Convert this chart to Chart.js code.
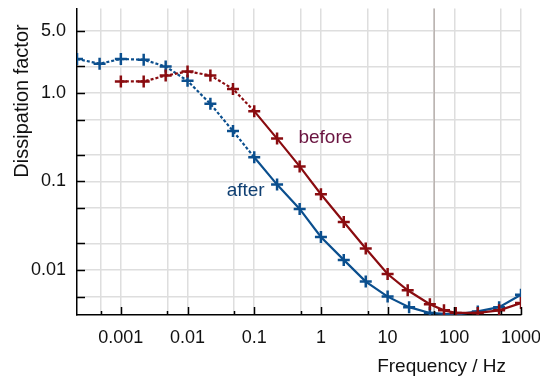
<!DOCTYPE html>
<html>
<head>
<meta charset="utf-8">
<script src="https://cdn.jsdelivr.net/npm/chart.js@4"></script>
<style>
  html, body { margin: 0; padding: 0; background: #fff; }
  #wrap { width: 540px; height: 376px; }
</style>
</head>
<body>
<div id="wrap"><canvas id="chart"></canvas></div>
<script>
// Dissipation factor vs frequency, before/after

const beforeFreq = [0.001, 0.0022, 0.0047, 0.01, 0.022, 0.048, 0.1, 0.22, 0.48, 1, 2.2, 4.7, 10, 20, 43, 70, 105, 225, 470, 1000];
const beforeVals = [1.35, 1.35, 1.57, 1.75, 1.58, 1.11, 0.623, 0.305, 0.148, 0.0718, 0.0348, 0.0175, 0.0090, 0.0059, 0.0041, 0.0035, 0.00327, 0.00327, 0.0035, 0.00423];

const afterFreq = [0.00022, 0.00048, 0.001, 0.0022, 0.0047, 0.01, 0.022, 0.048, 0.1, 0.22, 0.48, 1, 2.2, 4.7, 10, 21, 43, 105, 225, 470, 1000];
const afterVals = [2.42, 2.14, 2.42, 2.37, 1.99, 1.37, 0.753, 0.372, 0.1875, 0.0922, 0.049, 0.0236, 0.0130, 0.0074, 0.0050, 0.0038, 0.00327, 0.00313, 0.0034, 0.0038, 0.00525];

const xTicks = [0.0005, 0.001, 0.005, 0.01, 0.05, 0.1, 0.5, 1, 5, 10, 50, 100, 500, 1000];
const xLabels = { 0.001: '0.001', 0.01: '0.01', 0.1: '0.1', 1: '1', 10: '10', 100: '100', 1000: '1000' };
const yTicks = [0.005, 0.01, 0.02, 0.05, 0.1, 0.2, 0.5, 1, 2, 5];
const yLabels = { 0.01: '0.01', 0.1: '0.1', 1: '1.0', 5: '5.0' };

const mainsFreq = 50; // darker vertical marker

const RED = '#8a0c10';
const BLUE = '#0b4f8e';
const FONT = '"Liberation Sans", Arial, sans-serif';

function toPoints(xs, ys) {
    return xs.map((x, i) => ({ x: x, y: ys[i] }));
}

// low frequency part is drawn dotted
const dotted = ctx => ctx.p1.parsed.x <= 0.1 ? [3, 2] : undefined;

function isDecade(v) {
    const l = Math.log10(v);
    return Math.abs(l - Math.round(l)) < 1e-6;
}

const decorPlugin = {
    id: 'decor',
    beforeDatasetsDraw(chart) {
        const { ctx, chartArea: a, scales: { x } } = chart;
        const px = x.getPixelForValue(mainsFreq);
        ctx.save();
        ctx.strokeStyle = '#b3aaa6';
        ctx.lineWidth = 1.2;
        ctx.beginPath();
        ctx.moveTo(px, a.top);
        ctx.lineTo(px, a.bottom);
        ctx.stroke();
        ctx.restore();
    },
    afterDraw(chart) {
        const { ctx, chartArea: a, scales: { x, y } } = chart;
        ctx.save();
        // inward tick marks
        ctx.strokeStyle = '#000';
        ctx.lineWidth = 1.5;
        xTicks.forEach(v => {
            const px = Math.round(x.getPixelForValue(v)) + 0.5;
            const len = isDecade(v) ? 8 : 4;
            ctx.beginPath();
            ctx.moveTo(px, a.bottom);
            ctx.lineTo(px, a.bottom - len);
            ctx.stroke();
        });
        yTicks.forEach(v => {
            const py = Math.round(y.getPixelForValue(v)) + 0.5;
            ctx.beginPath();
            ctx.moveTo(a.left, py);
            ctx.lineTo(a.left + 8, py);
            ctx.stroke();
        });

        // axis titles
        ctx.fillStyle = '#111';
        ctx.font = '19px ' + FONT;
        ctx.textAlign = 'right';
        ctx.textBaseline = 'alphabetic';
        ctx.fillText('Frequency / Hz', 506, 372);

        ctx.save();
        ctx.font = '20px ' + FONT;
        ctx.translate(28, 101);
        ctx.rotate(-Math.PI / 2);
        ctx.textAlign = 'center';
        ctx.fillText('Dissipation factor', 0, 0);
        ctx.restore();

        // series labels
        ctx.font = '19px ' + FONT;
        ctx.textAlign = 'left';
        ctx.textBaseline = 'middle';
        ctx.fillStyle = '#6a1440';
        ctx.fillText('before', x.getPixelForValue(0.46), y.getPixelForValue(0.31));
        ctx.fillStyle = '#0f3f72';
        ctx.fillText('after', x.getPixelForValue(0.0386), y.getPixelForValue(0.079));
        ctx.restore();
    }
};

new Chart(document.getElementById('chart'), {
    type: 'line',
    data: {
        datasets: [
            {
                label: 'before',
                data: toPoints(beforeFreq, beforeVals),
                borderColor: RED,
                backgroundColor: RED,
                borderWidth: 2.2,
                pointStyle: 'cross',
                pointRadius: 6,
                pointBorderWidth: 2.5,
                tension: 0,
                segment: { borderDash: dotted }
            },
            {
                label: 'after',
                data: toPoints(afterFreq, afterVals),
                borderColor: BLUE,
                backgroundColor: BLUE,
                borderWidth: 2.2,
                pointStyle: 'cross',
                pointRadius: 6,
                pointBorderWidth: 2.5,
                tension: 0,
                segment: { borderDash: dotted }
            }
        ]
    },
    options: {
        responsive: true,
        maintainAspectRatio: false,
        animation: false,
        layout: { padding: { left: 0, right: 19, top: 7, bottom: 0 } },
        plugins: {
            legend: { display: false },
            tooltip: { enabled: false }
        },
        scales: {
            x: {
                type: 'logarithmic',
                min: 0.00022,
                max: 1000,
                afterBuildTicks: s => { s.ticks = xTicks.map(v => ({ value: v })); },
                afterFit: s => { s.height = 61; s.paddingLeft = 0; s.paddingRight = 0; },
                grid: { color: '#dedede', lineWidth: 1.5, drawTicks: false },
                border: { color: '#000', width: 1.5 },
                ticks: {
                    autoSkip: false,
                    maxRotation: 0,
                    padding: 12,
                    color: '#111',
                    font: { family: FONT, size: 18 },
                    callback: v => xLabels[v] || ''
                }
            },
            y: {
                type: 'logarithmic',
                min: 0.0031,
                max: 9,
                afterBuildTicks: s => { s.ticks = yTicks.map(v => ({ value: v })); },
                afterFit: s => { s.width = 77; s.paddingTop = 0; s.paddingBottom = 0; },
                grid: { color: '#dedede', lineWidth: 1.5, drawTicks: false },
                border: { color: '#000', width: 1.5 },
                ticks: {
                    autoSkip: false,
                    padding: 11,
                    color: '#111',
                    font: { family: FONT, size: 18 },
                    callback: v => yLabels[v] || ''
                }
            }
        }
    },
    plugins: [decorPlugin]
});
</script>
</body>
</html>
